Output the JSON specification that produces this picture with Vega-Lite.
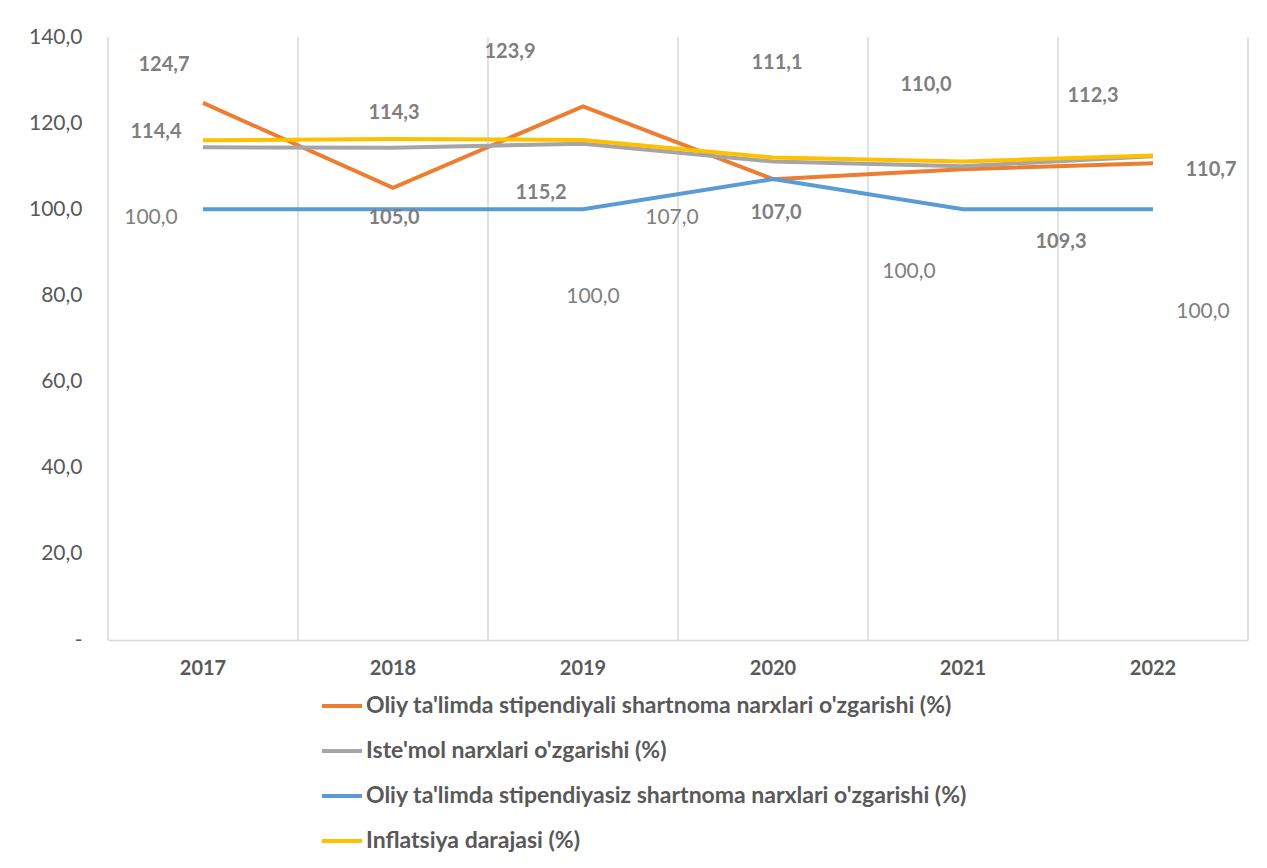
{
  "$schema": "https://vega.github.io/schema/vega-lite/v6.json",
  "width": 1140,
  "height": 603,
  "autosize": "none",
  "padding": {"left": 108, "top": 37, "right": 19, "bottom": 228},
  "background": "white",
  "config": {
    "view": {"stroke": null},
    "font": "Lato",
    "locale": {"number": {"decimal": ",", "thousands": " ", "grouping": [3], "currency": ["", ""]}}
  },
  "data": {
    "values": [
      {"year": "2017", "key": "o", "series": "Oliy ta'limda stipendiyali shartnoma narxlari o'zgarishi (%)", "value": 124.7},
      {"year": "2018", "key": "o", "series": "Oliy ta'limda stipendiyali shartnoma narxlari o'zgarishi (%)", "value": 105.0},
      {"year": "2019", "key": "o", "series": "Oliy ta'limda stipendiyali shartnoma narxlari o'zgarishi (%)", "value": 123.9},
      {"year": "2020", "key": "o", "series": "Oliy ta'limda stipendiyali shartnoma narxlari o'zgarishi (%)", "value": 107.0},
      {"year": "2021", "key": "o", "series": "Oliy ta'limda stipendiyali shartnoma narxlari o'zgarishi (%)", "value": 109.3},
      {"year": "2022", "key": "o", "series": "Oliy ta'limda stipendiyali shartnoma narxlari o'zgarishi (%)", "value": 110.7},
      {"year": "2017", "key": "g", "series": "Iste'mol narxlari o'zgarishi (%)", "value": 114.4},
      {"year": "2018", "key": "g", "series": "Iste'mol narxlari o'zgarishi (%)", "value": 114.3},
      {"year": "2019", "key": "g", "series": "Iste'mol narxlari o'zgarishi (%)", "value": 115.2},
      {"year": "2020", "key": "g", "series": "Iste'mol narxlari o'zgarishi (%)", "value": 111.1},
      {"year": "2021", "key": "g", "series": "Iste'mol narxlari o'zgarishi (%)", "value": 110.0},
      {"year": "2022", "key": "g", "series": "Iste'mol narxlari o'zgarishi (%)", "value": 112.3},
      {"year": "2017", "key": "b", "series": "Oliy ta'limda stipendiyasiz shartnoma narxlari o'zgarishi (%)", "value": 100.0},
      {"year": "2018", "key": "b", "series": "Oliy ta'limda stipendiyasiz shartnoma narxlari o'zgarishi (%)", "value": 100.0},
      {"year": "2019", "key": "b", "series": "Oliy ta'limda stipendiyasiz shartnoma narxlari o'zgarishi (%)", "value": 100.0},
      {"year": "2020", "key": "b", "series": "Oliy ta'limda stipendiyasiz shartnoma narxlari o'zgarishi (%)", "value": 107.0},
      {"year": "2021", "key": "b", "series": "Oliy ta'limda stipendiyasiz shartnoma narxlari o'zgarishi (%)", "value": 100.0},
      {"year": "2022", "key": "b", "series": "Oliy ta'limda stipendiyasiz shartnoma narxlari o'zgarishi (%)", "value": 100.0},
      {"year": "2017", "key": "y", "series": "Inflatsiya darajasi (%)", "value": 116.0},
      {"year": "2018", "key": "y", "series": "Inflatsiya darajasi (%)", "value": 116.3},
      {"year": "2019", "key": "y", "series": "Inflatsiya darajasi (%)", "value": 116.1},
      {"year": "2020", "key": "y", "series": "Inflatsiya darajasi (%)", "value": 112.0},
      {"year": "2021", "key": "y", "series": "Inflatsiya darajasi (%)", "value": 111.1},
      {"year": "2022", "key": "y", "series": "Inflatsiya darajasi (%)", "value": 112.5}
    ]
  },
  "encoding": {
    "x": {
      "field": "year", "type": "ordinal", "bandPosition": 0.5,
      "scale": {"type": "band", "paddingInner": 0, "paddingOuter": 0},
      "axis": {"title": null, "labelAngle": 0, "ticks": false, "grid": false, "domainColor": "#d9d9d9", "domainWidth": 1.5, "labelFontSize": 20, "labelFontWeight": "bold", "labelColor": "#595959", "labelPadding": 18}
    },
    "y": {
      "field": "value", "type": "quantitative",
      "scale": {"domain": [0, 140], "nice": false, "zero": true},
      "axis": {"title": null, "values": [0, 20, 40, 60, 80, 100, 120, 140], "format": ".1f", "labelExpr": "datum.value == 0 ? '-' : datum.label", "domain": false, "ticks": false, "grid": false, "labelFontSize": 21, "labelColor": "#595959", "labelPadding": 26}
    }
  },
  "layer": [
    {
      "transform": [{"filter": "datum.key == 'o'"}],
      "mark": {"type": "rule", "color": "#d9d9d9", "strokeWidth": 1.5},
      "encoding": {"x": {"field": "year", "type": "ordinal", "bandPosition": 0}, "y": null}
    },
    {
      "transform": [{"filter": "datum.key == 'o' && datum.year == '2022'"}],
      "mark": {"type": "rule", "color": "#d9d9d9", "strokeWidth": 1.5},
      "encoding": {"x": {"field": "year", "type": "ordinal", "bandPosition": 1}, "y": null}
    },
    {
      "mark": {"type": "line", "strokeWidth": 4},
      "encoding": {
        "color": {
          "field": "series", "type": "nominal",
          "scale": {
            "domain": ["Oliy ta'limda stipendiyali shartnoma narxlari o'zgarishi (%)", "Iste'mol narxlari o'zgarishi (%)", "Oliy ta'limda stipendiyasiz shartnoma narxlari o'zgarishi (%)", "Inflatsiya darajasi (%)"],
            "range": ["#ED7D31", "#A5A5A5", "#5B9BD5", "#FFC000"]
          },
          "legend": {"title": null, "orient": "none", "legendX": 212, "legendY": 647, "direction": "vertical", "symbolType": "stroke", "symbolSize": 1600, "symbolStrokeWidth": 4, "labelFontSize": 23, "labelFontWeight": "bold", "labelColor": "#595959", "labelLimit": 1000, "rowPadding": 11, "labelOffset": 2}
        },
        "order": {"field": "key"}
      }
    },
    {"transform": [{"filter": "datum.key == 'o' && datum.year == '2017'"}], "mark": {"type": "text", "dx": -39, "dy": -38, "fontSize": 20, "fontWeight": "bold", "color": "#7f7f7f"}, "encoding": {"text": {"field": "value", "format": ".1f"}}},
    {"transform": [{"filter": "datum.key == 'o' && datum.year == '2018'"}], "mark": {"type": "text", "dx": 1, "dy": 30, "fontSize": 20, "fontWeight": "bold", "color": "#7f7f7f"}, "encoding": {"text": {"field": "value", "format": ".1f"}}},
    {"transform": [{"filter": "datum.key == 'o' && datum.year == '2019'"}], "mark": {"type": "text", "dx": -73, "dy": -54, "fontSize": 20, "fontWeight": "bold", "color": "#7f7f7f"}, "encoding": {"text": {"field": "value", "format": ".1f"}}},
    {"transform": [{"filter": "datum.key == 'o' && datum.year == '2020'"}], "mark": {"type": "text", "dx": 3, "dy": 34, "fontSize": 20, "fontWeight": "bold", "color": "#7f7f7f"}, "encoding": {"text": {"field": "value", "format": ".1f"}}},
    {"transform": [{"filter": "datum.key == 'o' && datum.year == '2021'"}], "mark": {"type": "text", "dx": 98, "dy": 73, "fontSize": 20, "fontWeight": "bold", "color": "#7f7f7f"}, "encoding": {"text": {"field": "value", "format": ".1f"}}},
    {"transform": [{"filter": "datum.key == 'o' && datum.year == '2022'"}], "mark": {"type": "text", "dx": 58, "dy": 7, "fontSize": 20, "fontWeight": "bold", "color": "#7f7f7f"}, "encoding": {"text": {"field": "value", "format": ".1f"}}},
    {"transform": [{"filter": "datum.key == 'g' && datum.year == '2017'"}], "mark": {"type": "text", "dx": -47, "dy": -15, "fontSize": 20, "fontWeight": "bold", "color": "#7f7f7f"}, "encoding": {"text": {"field": "value", "format": ".1f"}}},
    {"transform": [{"filter": "datum.key == 'g' && datum.year == '2018'"}], "mark": {"type": "text", "dx": 1, "dy": -35, "fontSize": 20, "fontWeight": "bold", "color": "#7f7f7f"}, "encoding": {"text": {"field": "value", "format": ".1f"}}},
    {"transform": [{"filter": "datum.key == 'g' && datum.year == '2019'"}], "mark": {"type": "text", "dx": -42, "dy": 49, "fontSize": 20, "fontWeight": "bold", "color": "#7f7f7f"}, "encoding": {"text": {"field": "value", "format": ".1f"}}},
    {"transform": [{"filter": "datum.key == 'g' && datum.year == '2020'"}], "mark": {"type": "text", "dx": 4, "dy": -98, "fontSize": 20, "fontWeight": "bold", "color": "#7f7f7f"}, "encoding": {"text": {"field": "value", "format": ".1f"}}},
    {"transform": [{"filter": "datum.key == 'g' && datum.year == '2021'"}], "mark": {"type": "text", "dx": -37, "dy": -81, "fontSize": 20, "fontWeight": "bold", "color": "#7f7f7f"}, "encoding": {"text": {"field": "value", "format": ".1f"}}},
    {"transform": [{"filter": "datum.key == 'g' && datum.year == '2022'"}], "mark": {"type": "text", "dx": -60, "dy": -60, "fontSize": 20, "fontWeight": "bold", "color": "#7f7f7f"}, "encoding": {"text": {"field": "value", "format": ".1f"}}},
    {"transform": [{"filter": "datum.key == 'b' && datum.year == '2017'"}], "mark": {"type": "text", "dx": -52, "dy": 9, "fontSize": 21, "color": "#7f7f7f"}, "encoding": {"text": {"field": "value", "format": ".1f"}}},
    {"transform": [{"filter": "datum.key == 'b' && datum.year == '2019'"}], "mark": {"type": "text", "dx": 10, "dy": 88, "fontSize": 21, "color": "#7f7f7f"}, "encoding": {"text": {"field": "value", "format": ".1f"}}},
    {"transform": [{"filter": "datum.key == 'b' && datum.year == '2020'"}], "mark": {"type": "text", "dx": -101, "dy": 39, "fontSize": 21, "color": "#7f7f7f"}, "encoding": {"text": {"field": "value", "format": ".1f"}}},
    {"transform": [{"filter": "datum.key == 'b' && datum.year == '2021'"}], "mark": {"type": "text", "dx": -54, "dy": 63, "fontSize": 21, "color": "#7f7f7f"}, "encoding": {"text": {"field": "value", "format": ".1f"}}},
    {"transform": [{"filter": "datum.key == 'b' && datum.year == '2022'"}], "mark": {"type": "text", "dx": 50, "dy": 103, "fontSize": 21, "color": "#7f7f7f"}, "encoding": {"text": {"field": "value", "format": ".1f"}}}
  ]
}
